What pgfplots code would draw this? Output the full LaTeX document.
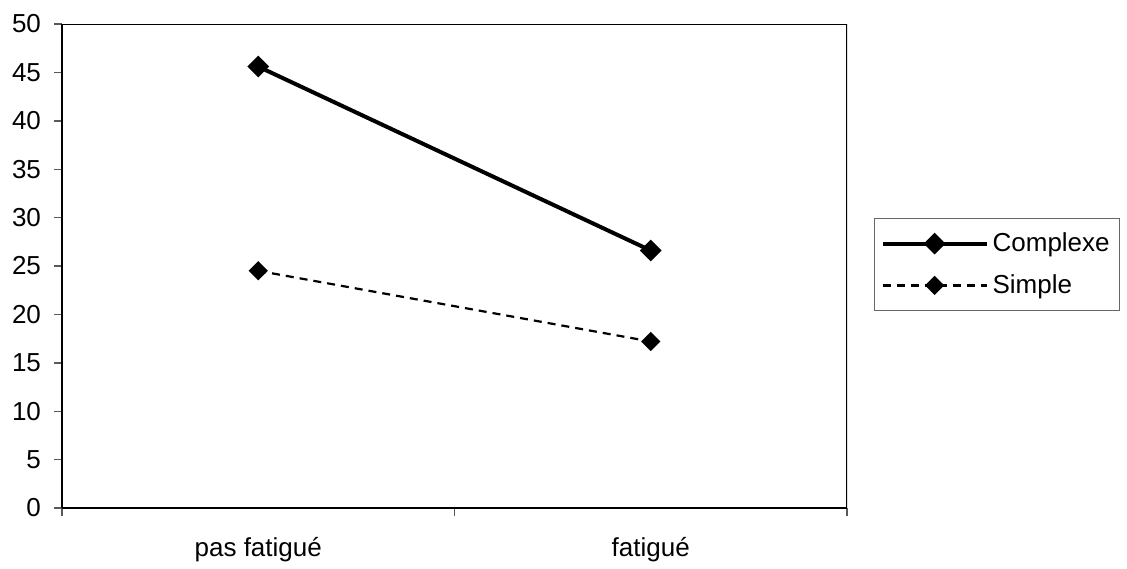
\documentclass[border=0pt]{standalone}
\usepackage{pgfplots}
\pgfplotsset{compat=1.18}
\usepackage{fontspec}
\setmainfont{Liberation Sans}
\begin{document}
\begin{tikzpicture}
\useasboundingbox (0,0) rectangle (563.5pt,284pt);
\begin{axis}[
  at={(31pt,30pt)}, anchor=south west,
  scale only axis, width=392.5pt, height=242pt,
  xmin=-0.5, xmax=1.5, ymin=0, ymax=50,
  ytick={0,5,...,50},
  xtick={-0.5,0.5,1.5}, xticklabels={},
  extra x ticks={0,1}, extra x tick labels={pas fatigué, fatigué},
  extra x tick style={major tick length=0pt, xticklabel style={yshift=-11pt}},
  tick align=outside, major tick length=4pt,
  tick style={gray!70!black, line width=0.7pt},
  axis line style={black, line width=1.1pt},
  font=\fontsize{13}{15}\selectfont,
  /pgf/number format/assume math mode=true,
  every tick label/.append style={font=\fontsize{13}{15}\selectfont},
  yticklabel style={xshift=-3pt},
  axis x line*=bottom, axis y line*=left,
  legend cell align=left,
  legend image code/.code={
    \draw[mark repeat=2,mark phase=2,#1] plot coordinates {(0pt,0pt) (26pt,0pt) (52pt,0pt)};
  },
  legend style={at={(1.0344,0.599)}, anchor=north west,
    draw=gray!80!black, line width=0.6pt,
    inner xsep=3pt, inner ysep=5pt, row sep=6pt,
    font=\fontsize{13}{15}\selectfont,
    nodes={inner xsep=2pt}},
]
\draw[black, line width=1.1pt] (rel axis cs:0,1) -- (rel axis cs:1,1) -- (rel axis cs:1,0);
\addplot[black, line width=2pt, mark=square*, mark size=2.85pt, mark options={solid, fill=black, rotate=45}]
  coordinates {(0,45.6) (1,26.6)};
\addlegendentry{Complexe}
\addplot[black, line width=1.1pt, dash pattern=on 4pt off 3pt, mark=square*, mark size=2.85pt, mark options={solid, fill=black, rotate=45}]
  coordinates {(0,24.5) (1,17.2)};
\addlegendentry{Simple}
\end{axis}
\end{tikzpicture}
\end{document}
